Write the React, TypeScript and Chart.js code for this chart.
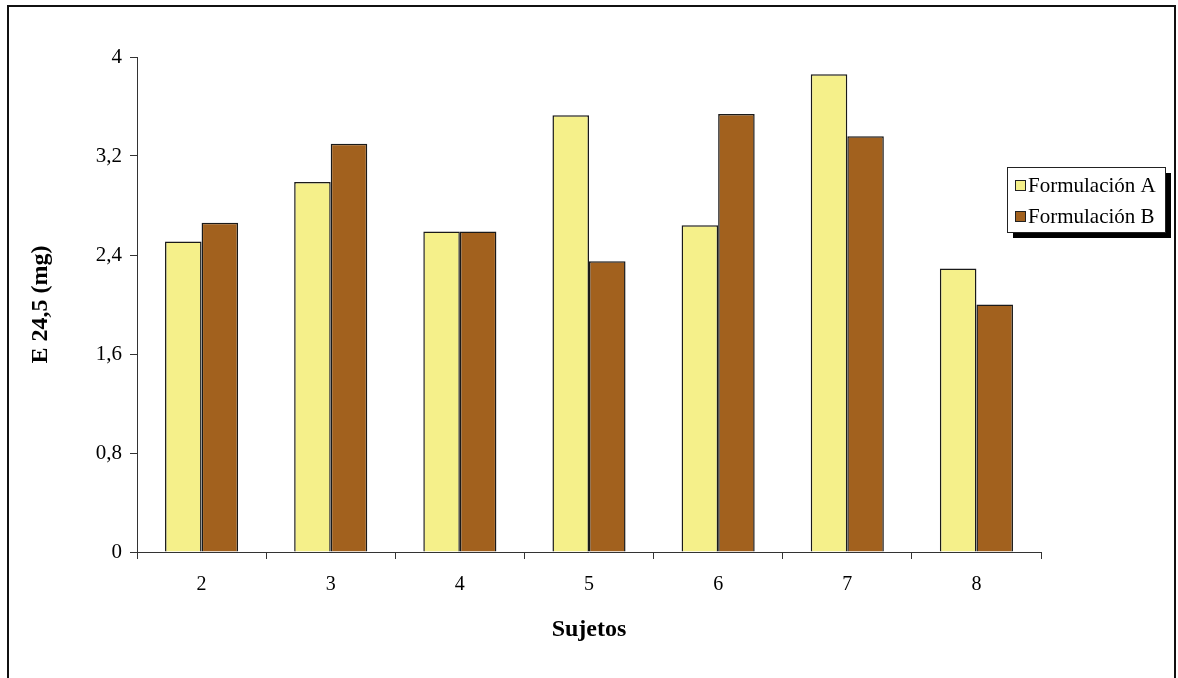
import React, { useEffect, useRef } from "react";
import { Chart, registerables } from "chart.js";

Chart.register(...registerables);

const categories = ["2", "3", "4", "5", "6", "7", "8"];
const seriesA = [2.51, 2.99, 2.59, 3.53, 2.64, 3.86, 2.29];
const seriesB = [2.66, 3.3, 2.59, 2.35, 3.54, 3.36, 2.0];
const seriesNames = ["Formulación A", "Formulación B"];
const yTicks = [0, 0.8, 1.6, 2.4, 3.2, 4];
const xTitle = "Sujetos";
const yTitle = "E 24,5 (mg)";

const colorA = "#f5f08a";
const colorB = "#a2611e";
const SERIF = "'Liberation Serif', 'DejaVu Serif', serif";

const decoPlugin = {
  id: "deco",
  beforeDraw(chart: any) {
    const ctx = chart.ctx;
    ctx.save();
    ctx.fillStyle = "#ffffff";
    ctx.fillRect(0, 0, chart.width, chart.height);
    ctx.restore();
  },
  afterDraw(chart: any) {
    const ctx = chart.ctx;
    ctx.save();
    // outer frame (open at bottom)
    ctx.strokeStyle = "#111";
    ctx.lineWidth = 2;
    ctx.beginPath();
    ctx.moveTo(8, 700);
    ctx.lineTo(8, 6);
    ctx.lineTo(1175, 6);
    ctx.lineTo(1175, 700);
    ctx.stroke();

    // legend box with shadow
    const lx = 1007, ly = 167, lw = 158, lh = 65;
    ctx.fillStyle = "#000";
    ctx.fillRect(lx + 6, ly + 6, lw, lh);
    ctx.fillStyle = "#fff";
    ctx.fillRect(lx, ly, lw, lh);
    ctx.strokeStyle = "#222";
    ctx.lineWidth = 1;
    ctx.strokeRect(lx + 0.5, ly + 0.5, lw, lh);

    const ds = chart.data.datasets;
    const rowsY = [185, 216];
    ds.forEach((d: any, i: number) => {
      const y = rowsY[i];
      ctx.fillStyle = d.backgroundColor;
      ctx.fillRect(1015, y - 5, 10, 10);
      ctx.strokeStyle = "#222";
      ctx.lineWidth = 1;
      ctx.strokeRect(1015.5, y - 4.5, 10, 10);
      ctx.fillStyle = "#000";
      ctx.font = `21px ${SERIF}`;
      ctx.textBaseline = "middle";
      ctx.textAlign = "left";
      ctx.fillText(d.label, 1028, y + 1);
    });
    ctx.restore();
  },
};

export default function App() {
  const ref = useRef<HTMLCanvasElement | null>(null);
  useEffect(() => {
    if (!ref.current) return;
    const chart = new Chart(ref.current, {
      type: "bar",
      data: {
        labels: categories,
        datasets: [
          {
            label: seriesNames[0],
            data: seriesA,
            backgroundColor: colorA,
            borderColor: "#1a1a1a",
            borderWidth: 1.5,
          },
          {
            label: seriesNames[1],
            data: seriesB,
            backgroundColor: colorB,
            borderColor: "#1a1a1a",
            borderWidth: 1.5,
          },
        ],
      },
      options: {
        responsive: false,
        animation: false,
        layout: { padding: { top: 57, right: 137, left: 0, bottom: 0 } },
        plugins: {
          legend: { display: false },
          tooltip: { enabled: false },
        },
        datasets: {
          bar: { categoryPercentage: 0.566, barPercentage: 1 },
        },
        scales: {
          x: {
            grid: {
              drawOnChartArea: false,
              drawTicks: true,
              tickLength: 7,
              color: "#333",
              offset: true,
            },
            border: { display: true, color: "#333", width: 1 },
            ticks: {
              color: "#000",
              font: { family: SERIF, size: 20 },
              padding: 14,
            },
            title: {
              display: true,
              text: xTitle,
              color: "#000",
              font: { family: SERIF, size: 24, weight: "bold" },
              padding: { top: 0, bottom: 34 },
            },
            afterFit(scale: any) {
              scale.height = 126;
            },
          },
          y: {
            min: 0,
            max: 4,
            afterBuildTicks(scale: any) {
              scale.ticks = yTicks.map((v) => ({ value: v }));
            },
            grid: {
              drawOnChartArea: false,
              drawTicks: true,
              tickLength: 7,
              color: "#333",
            },
            border: { display: true, color: "#333", width: 1 },
            ticks: {
              color: "#000",
              font: { family: SERIF, size: 21 },
              padding: 8,
              callback: (v: any) => String(Number(Number(v).toFixed(2))).replace(".", ","),
            },
            title: {
              display: true,
              text: yTitle,
              color: "#000",
              font: { family: SERIF, size: 24, weight: "bold" },
              padding: { top: 26, bottom: 0 },
            },
            afterFit(scale: any) {
              scale.width = 137;
            },
          },
        },
      },
      plugins: [decoPlugin],
    });
    return () => chart.destroy();
  }, []);
  return (
    <div style={{ position: "absolute", left: 0, top: 0, width: 1178, height: 678 }}>
      <canvas ref={ref} width={1178} height={678} />
    </div>
  );
}
